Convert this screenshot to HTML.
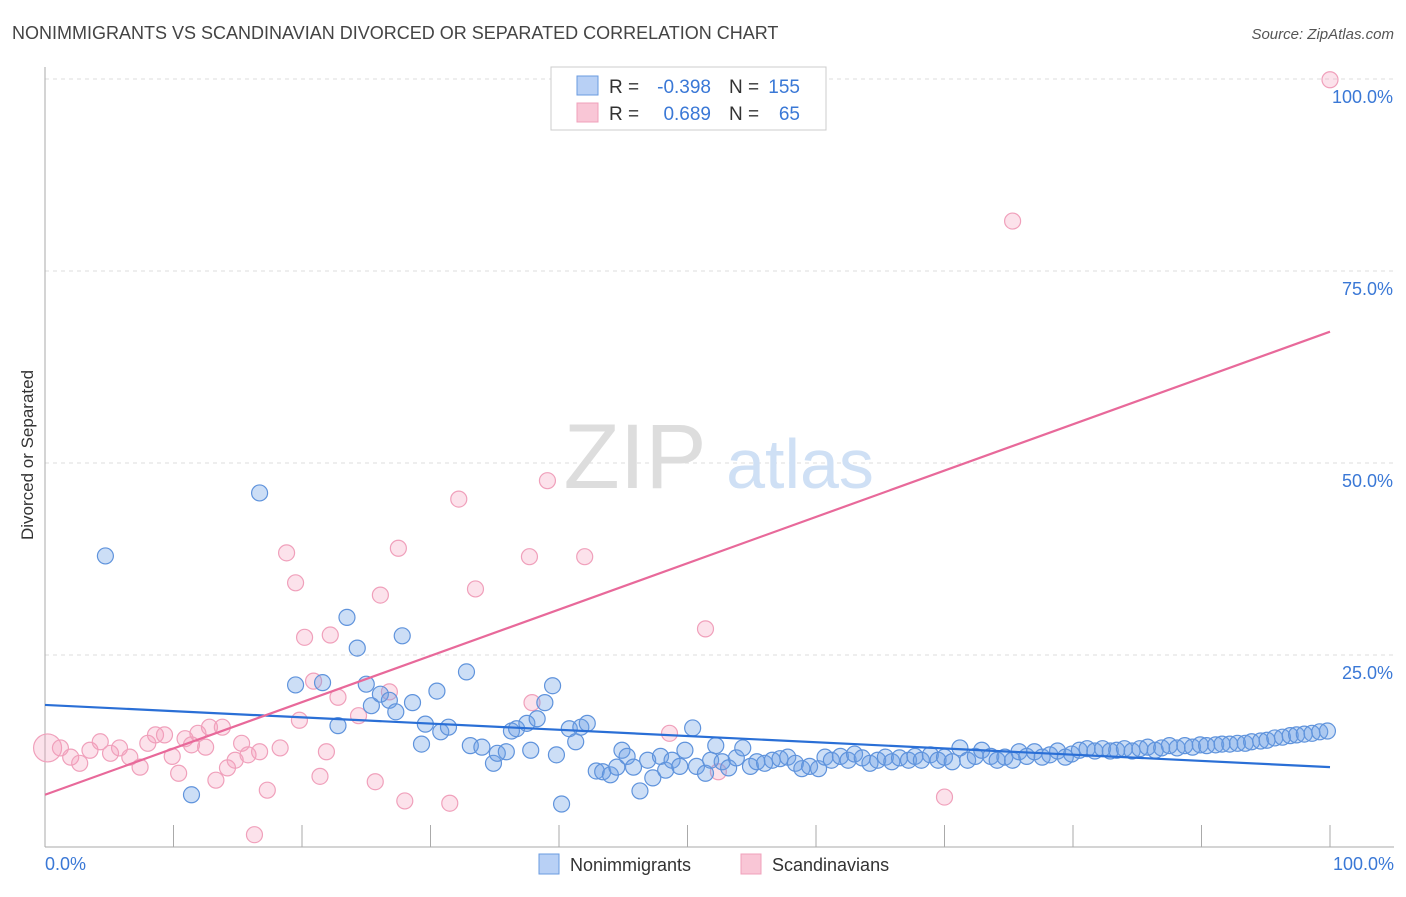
<!DOCTYPE html>
<html><head><meta charset="utf-8"><style>
body{margin:0;background:#fff;font-family:"Liberation Sans",sans-serif}
svg text{font-family:"Liberation Sans",sans-serif}
</style></head><body>
<svg id="chart" width="1406" height="892" viewBox="0 0 1406 892" xmlns="http://www.w3.org/2000/svg">
<text x="12" y="39" font-size="18" fill="#444">NONIMMIGRANTS VS SCANDINAVIAN DIVORCED OR SEPARATED CORRELATION CHART</text>
<text x="1394" y="39" font-size="15" fill="#555" text-anchor="end" font-style="italic">Source: ZipAtlas.com</text>
<g id="grid"></g>
<g>
<text x="635" y="488" font-size="92" fill="#ddd" font-family="Liberation Serif,serif" text-anchor="middle">ZIP</text>
<text x="800" y="488" font-size="70" fill="#cfe0f5" text-anchor="middle">atlas</text>
</g>
<line x1="45" y1="847" x2="1394" y2="847" stroke="#aaa"/>
<line x1="45" y1="67" x2="45" y2="847" stroke="#aaa"/>
<text transform="translate(33,455) rotate(-90)" font-size="17" fill="#333" text-anchor="middle">Divorced or Separated</text>
<text x="45" y="870" font-size="18" fill="#3a78d6">0.0%</text>
<text x="1394" y="870" font-size="18" fill="#3a78d6" text-anchor="end">100.0%</text>
<g id="pts"></g>
<g id="lines"></g>
<g>
<rect x="551" y="67" width="275" height="63" fill="#fff" stroke="#ccc"/>
<rect x="577" y="76" width="21" height="19" fill="#b8d0f5" stroke="#6a9be0"/>
<rect x="577" y="103" width="21" height="19" fill="#f9c6d6" stroke="#f0a0bb"/>
<text x="609" y="93" font-size="19" fill="#333">R =</text>
<text x="711" y="93" font-size="19" fill="#3a78d6" text-anchor="end">-0.398</text>
<text x="729" y="93" font-size="19" fill="#333">N =</text>
<text x="800" y="93" font-size="19" fill="#3a78d6" text-anchor="end">155</text>
<text x="609" y="120" font-size="19" fill="#333">R =</text>
<text x="711" y="120" font-size="19" fill="#3a78d6" text-anchor="end">0.689</text>
<text x="729" y="120" font-size="19" fill="#333">N =</text>
<text x="800" y="120" font-size="19" fill="#3a78d6" text-anchor="end">65</text>
</g>
<g>
<rect x="539" y="854" width="20" height="20" fill="#b8d0f5" stroke="#6a9be0"/>
<text x="570" y="871" font-size="18" fill="#333">Nonimmigrants</text>
<rect x="741" y="854" width="20" height="20" fill="#f9c6d6" stroke="#f0a0bb"/>
<text x="772" y="871" font-size="18" fill="#333">Scandinavians</text>
</g>
</svg>
<script>
const yTicks=[25,50,75,100];
const yTickLabels=["25.0%","50.0%","75.0%","100.0%"];
const xTicks=[0,10,20,30,40,50,60,70,80,90,100];
const blueX=[4.7,11.4,16.7,19.5,21.6,22.8,23.5,24.3,25.0,25.4,26.1,26.8,27.3,27.8,28.6,29.3,29.6,30.5,30.8,31.4,32.8,33.1,34.0,34.9,35.2,35.9,36.3,36.7,37.5,37.8,38.3,38.9,39.5,39.8,40.2,40.8,41.3,41.7,42.2,42.9,43.4,44.0,44.5,44.9,45.3,45.8,46.3,46.9,47.3,47.9,48.3,48.8,49.4,49.8,50.4,50.7,51.4,51.8,52.2,52.7,53.2,53.8,54.3,54.9,55.4,56.0,56.6,57.2,57.8,58.4,58.9,59.5,60.2,60.7,61.2,61.9,62.5,63.0,63.6,64.2,64.8,65.4,65.9,66.5,67.2,67.7,68.2,68.9,69.5,70.0,70.6,71.2,71.8,72.4,72.9,73.6,74.1,74.7,75.3,75.8,76.4,77.0,77.6,78.2,78.8,79.4,79.9,80.5,81.1,81.7,82.3,82.9,83.4,84.0,84.6,85.2,85.8,86.4,86.9,87.5,88.1,88.7,89.3,89.9,90.4,91.1,91.6,92.2,92.8,93.4,93.9,94.6,95.1,95.7,96.3,96.9,97.4,98.0,98.6,99.2,99.8];
const blueY=[37.9,6.8,46.1,21.1,21.4,15.8,29.9,25.9,21.2,18.4,19.9,19.1,17.6,27.5,18.8,13.4,16.0,20.3,15.0,15.6,22.8,13.2,13.0,10.9,12.2,12.4,15.1,15.4,16.1,12.6,16.7,18.8,21.0,12.0,5.6,15.4,13.7,15.6,16.1,9.9,9.8,9.4,10.4,12.6,11.8,10.4,7.3,11.3,9.0,11.8,10.0,11.3,10.5,12.6,15.5,10.5,9.6,11.3,13.2,11.1,10.3,11.6,12.9,10.5,11.1,10.9,11.3,11.5,11.7,10.9,10.2,10.5,10.2,11.7,11.3,11.8,11.3,12.1,11.6,10.9,11.3,11.7,11.1,11.6,11.3,11.8,11.3,12.0,11.3,11.7,11.1,12.9,11.3,11.8,12.6,11.8,11.3,11.7,11.3,12.4,11.8,12.4,11.7,12.0,12.5,11.7,12.1,12.6,12.8,12.5,12.8,12.5,12.6,12.8,12.5,12.8,13.0,12.6,12.9,13.2,12.9,13.2,13.0,13.3,13.2,13.3,13.4,13.4,13.5,13.5,13.7,13.8,13.9,14.2,14.3,14.5,14.6,14.7,14.8,15.0,15.1];
const pinkX=[0.2,1.2,2.0,2.7,3.5,4.3,5.1,5.8,6.6,7.4,8.0,8.6,9.3,9.9,10.4,10.9,11.4,11.9,12.5,12.8,13.3,13.8,14.2,14.8,15.3,15.8,16.3,16.7,17.3,18.3,18.8,19.5,19.8,20.2,20.9,21.4,21.9,22.2,22.8,24.4,25.7,26.1,26.8,27.5,28.0,31.5,32.2,33.5,37.7,37.9,39.1,42.0,48.6,51.4,52.4,70.0,75.3,100];
const pinkY=[12.9,12.9,11.7,10.9,12.6,13.7,12.2,12.9,11.7,10.4,13.5,14.6,14.6,11.8,9.6,14.1,13.3,14.8,13.0,15.6,8.7,15.6,10.3,11.3,13.5,12.0,1.6,12.4,7.4,12.9,38.3,34.4,16.5,27.3,21.6,9.2,12.4,27.6,19.5,17.1,8.5,32.8,20.2,38.9,6.0,5.7,45.3,33.6,37.8,18.8,47.7,37.8,14.8,28.4,9.8,6.5,81.5,99.9];
const blueTrend=[18.5,10.4];
const pinkTrend=[6.8,67.1];
const NS="http://www.w3.org/2000/svg";
const xs=v=>45+v*12.85, ys=v=>847-v*7.68;
function mk(tag,attrs,parent){const e=document.createElementNS(NS,tag);for(const k in attrs)e.setAttribute(k,attrs[k]);parent.appendChild(e);return e;}
const grid=document.getElementById('grid');
yTicks.forEach((t,i)=>{
 const l=mk('line',{x1:45,x2:1394,y1:ys(t),y2:ys(t),stroke:'#ddd','stroke-dasharray':'4,4'},grid);
 
 
 const tx=mk('text',{x:1393,y:ys(t)+24,'font-size':18,fill:'#3a78d6','text-anchor':'end'},grid);
 tx.textContent=yTickLabels[i];
 
 
});
xTicks.forEach(t=>{
 const l=mk('line',{x1:xs(t),x2:xs(t),y1:825,y2:847,stroke:'#aaa'},grid);
 
 
});
const pts=document.getElementById('pts');
pinkX.forEach((x,i)=>{
 const c=mk('circle',{cx:xs(x),cy:ys(pinkY[i]),r:i===0?14:8,fill:'rgba(244,160,188,0.3)',stroke:'#f0a0bb','stroke-width':1.2},pts);
 
 
});
blueX.forEach((x,i)=>{
 const c=mk('circle',{cx:xs(x),cy:ys(blueY[i]),r:8,fill:'rgba(110,160,230,0.35)',stroke:'#5f93dc','stroke-width':1.2},pts);
 
 
});
const lines=document.getElementById('lines');
const bl=mk('line',{x1:xs(0),y1:ys(blueTrend[0]),x2:xs(100),y2:ys(blueTrend[1]),stroke:'#2a6fd6','stroke-width':2.2},lines);


const pl=mk('line',{x1:xs(0),y1:ys(pinkTrend[0]),x2:xs(100),y2:ys(pinkTrend[1]),stroke:'#e8699a','stroke-width':2.2},lines);


</script>
</body></html>
